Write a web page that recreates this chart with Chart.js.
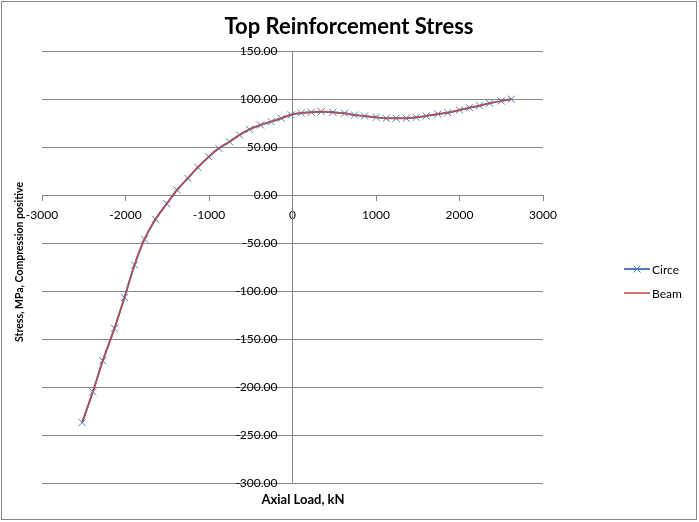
<!DOCTYPE html>
<html>
<head>
<meta charset="utf-8">
<script src="https://cdn.jsdelivr.net/npm/chart.js@4"></script>
<style>
html, body { margin: 0; padding: 0; background: #fff; }
</style>
</head>
<body>
<canvas id="stressChart" width="699" height="522"></canvas>
<script>
// values
var axialLoad = [-2519, -2391, -2272, -2132, -2012, -1892, -1772, -1641, -1505, -1383,
    -1254, -1134, -1002, -883, -754, -635, -515, -383, -255, -135,
    -16, 104, 224, 344, 483, 623, 743, 862, 1002, 1122,
    1242, 1362, 1481, 1601, 1741, 1860, 2000, 2120, 2240, 2359,
    2499, 2620];
var circeStress = [-237, -205, -172.6, -138.9, -106.6, -72.9, -46, -25.2, -9, 5.2,
    17.4, 28.8, 39.9, 48.6, 55.5, 62.5, 68.4, 72.9, 76.4, 79.9,
    83.5, 85.4, 86.1, 86.8, 86.1, 85.1, 83.3, 82.3, 80.9, 79.9,
    79.9, 79.9, 80.9, 82.3, 84.4, 85.7, 88.5, 90.9, 93, 95.5,
    97.9, 99.8];
var beamStress = circeStress.slice();
var seriesNames = ["Circe", "Beam"];
var seriesColors = ["#4a7ebb", "#be4b48"];
var chartTitle = "Top Reinforcement Stress";
var xTitle = "Axial Load, kN";
var yTitle = "Stress, MPa, Compression positive";

var X_MIN = -3000, X_MAX = 3000, X_STEP = 1000;
var Y_MIN = -300, Y_MAX = 150, Y_STEP = 50;

var GRIDCOLOR = "#868686";
var FONT = "Lato, 'Open Sans', sans-serif";

function toPoints(xs, ys) {
    var pts = [];
    for (var i = 0; i < xs.length; i++) {
        pts.push({ x: xs[i], y: ys[i] });
    }
    return pts;
}

// border, titles and legend placed the way the spreadsheet draws them
var decorations = {
    id: 'decorations',
    beforeDraw: function (chart) {
        var ctx = chart.ctx;
        ctx.save();
        ctx.fillStyle = "#fff";
        ctx.fillRect(0, 0, chart.width, chart.height);
        ctx.strokeStyle = GRIDCOLOR;
        ctx.lineWidth = 1;
        ctx.strokeRect(1.5, 1.5, 695, 518);
        ctx.restore();
    },
    afterDraw: function (chart) {
        var ctx = chart.ctx;
        ctx.save();
        ctx.fillStyle = "#000";
        ctx.textAlign = "center";
        ctx.textBaseline = "middle";
        ctx.font = "bold 22px " + FONT;
        ctx.fillText(chartTitle, 349, 27);

        ctx.font = "bold 13px " + FONT;
        ctx.fillText(xTitle, 303, 500);

        ctx.font = "bold 10.5px " + FONT;
        ctx.translate(20, 262);
        ctx.rotate(-Math.PI / 2);
        ctx.fillText(yTitle, 0, 0);
        ctx.restore();

        // legend
        ctx.save();
        ctx.font = "12px " + FONT;
        ctx.textAlign = "left";
        ctx.textBaseline = "middle";
        for (var i = 0; i < seriesNames.length; i++) {
            var y = 269 + i * 24;
            ctx.strokeStyle = seriesColors[i];
            ctx.lineWidth = i == 0 ? 2 : 1.5;
            ctx.beginPath();
            ctx.moveTo(624, y);
            ctx.lineTo(650, y);
            ctx.stroke();
            if (i == 0) {
                ctx.lineWidth = 1;
                ctx.beginPath();
                ctx.moveTo(633.5, y - 3.5);
                ctx.lineTo(640.5, y + 3.5);
                ctx.moveTo(640.5, y - 3.5);
                ctx.lineTo(633.5, y + 3.5);
                ctx.stroke();
            }
            ctx.fillStyle = "#000";
            ctx.fillText(seriesNames[i], 652, y + 1);
        }
        ctx.restore();
    }
};

var data = {
    datasets: [
        {
            label: seriesNames[0],
            data: toPoints(axialLoad, circeStress),
            showLine: true,
            borderColor: seriesColors[0],
            backgroundColor: seriesColors[0],
            borderWidth: 2,
            tension: 0.35,
            pointStyle: 'crossRot',
            pointRadius: 5,
            pointBorderWidth: 1,
            pointBorderColor: seriesColors[0],
            order: 2
        },
        {
            label: seriesNames[1],
            data: toPoints(axialLoad, beamStress),
            showLine: true,
            borderColor: seriesColors[1],
            backgroundColor: seriesColors[1],
            borderWidth: 1.5,
            tension: 0.35,
            pointRadius: 0,
            order: 1
        }
    ]
};

var config = {
    type: 'scatter',
    data: data,
    options: {
        responsive: false,
        animation: false,
        layout: {
            padding: { left: 42, right: 156, top: 51, bottom: 39 }
        },
        plugins: {
            legend: { display: false },
            tooltip: { enabled: false },
            title: { display: false }
        },
        scales: {
            x: {
                type: 'linear',
                position: { y: 0 },
                min: X_MIN,
                max: X_MAX,
                ticks: {
                    stepSize: X_STEP,
                    color: '#000',
                    padding: 8,
                    font: { family: FONT, size: 12 },
                    maxRotation: 0,
                    callback: function (value) {
                        return String(value);
                    }
                },
                grid: {
                    drawOnChartArea: false,
                    drawTicks: true,
                    tickLength: 5,
                    color: GRIDCOLOR
                },
                border: { display: true, color: GRIDCOLOR, width: 1 }
            },
            y: {
                type: 'linear',
                position: { x: 0 },
                min: Y_MIN,
                max: Y_MAX,
                ticks: {
                    stepSize: Y_STEP,
                    color: '#000',
                    font: { family: FONT, size: 12 },
                    // the label sits a little left of the vertical axis
                    callback: function (value) {
                        return value.toFixed(2) + '\u2003\u2002';
                    }
                },
                grid: {
                    color: GRIDCOLOR,
                    tickLength: 0
                },
                border: { display: true, color: GRIDCOLOR, width: 1 }
            }
        }
    },
    plugins: [decorations]
};

var stressChart = new Chart(document.getElementById("stressChart"), config);
</script>
</body>
</html>
